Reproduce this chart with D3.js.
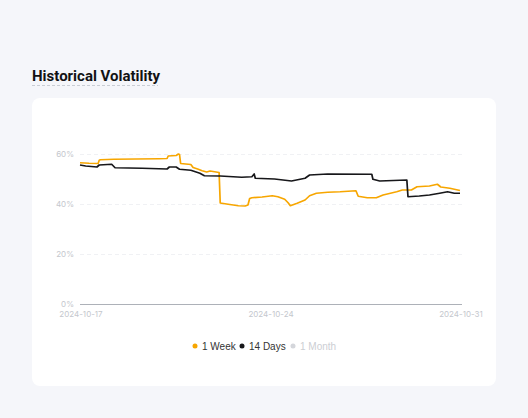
<!DOCTYPE html>
<html>
<head>
<meta charset="utf-8">
<script src="https://cdn.jsdelivr.net/npm/d3@7"></script>
<style>
  html, body { margin: 0; padding: 0; background: #f5f6fa; }
  body { width: 528px; height: 418px; overflow: hidden; font-family: Inter, "Noto Sans", sans-serif; }
</style>
</head>
<body>
<div id="chart"></div>
<script>
// hours since 2024-10-17 00:00 and volatility (%)
var weekHours = [0, 8, 16, 17, 18, 30, 50, 70, 77, 78, 85, 87, 88, 89, 98, 100, 104, 108, 112, 115, 123, 124, 131, 140, 146, 148.5, 150, 152, 161, 170, 175, 181, 184, 186, 192, 199, 203, 209, 219, 230, 244, 246, 254, 262, 268, 280, 285, 293, 298, 309, 316, 319, 327, 336];
var weekVol   = [56.5, 56.3, 56.2, 57.5, 57.7, 57.9, 58.0, 58.1, 58.2, 59.2, 59.4, 60.0, 59.8, 56.2, 55.8, 54.6, 54.0, 53.3, 52.8, 53.2, 52.6, 40.4, 39.9, 39.3, 39.2, 39.6, 42.2, 42.5, 42.8, 43.3, 42.9, 41.9, 40.5, 39.3, 40.3, 41.6, 43.3, 44.3, 44.7, 44.9, 45.3, 43.1, 42.5, 42.5, 43.6, 44.9, 45.6, 45.6, 46.9, 47.2, 47.9, 46.8, 46.3, 45.4];

var daysHours = [0, 5, 15, 17, 28, 31, 55, 77, 79, 85, 88, 98, 106, 110, 124, 143, 152, 154, 155, 172, 187, 199, 203, 219, 258, 259, 265, 289, 290, 300, 309, 318, 325, 331, 336];
var daysVol   = [55.6, 55.2, 54.8, 55.6, 55.9, 54.5, 54.3, 54.0, 54.8, 54.8, 53.9, 53.5, 52.3, 51.3, 51.2, 50.7, 50.9, 52.0, 50.3, 50.0, 49.2, 50.3, 51.6, 52.0, 51.9, 49.9, 49.2, 49.6, 42.9, 43.2, 43.6, 44.3, 44.9, 44.3, 44.3];

var yTicks = [0, 20, 40, 60];
var xTicks = ["2024-10-17", "2024-10-24", "2024-10-31"];
var legendNames = ["1 Week", "14 Days", "1 Month"];

var start = new Date(2024, 9, 17);
function toDate(h) { return new Date(start.getTime() + h * 3600e3); }

var week = weekHours.map((h, i) => ({t: toDate(h), v: weekVol[i]}));
var days = daysHours.map((h, i) => ({t: toDate(h), v: daysVol[i]}));

var width = 528, height = 418;
var svg = d3.select("#chart").append("svg")
  .attr("width", width)
  .attr("height", height);

// title
svg.append("text")
  .attr("x", 32)
  .attr("y", 81)
  .style("font-family", "Roboto, sans-serif")
  .style("font-size", "15px")
  .style("font-weight", 700)
  .style("fill", "#121214")
  .text("Historical Volatility");
svg.append("line")
  .attr("x1", 32).attr("x2", 158)
  .attr("y1", 85.5).attr("y2", 85.5)
  .attr("stroke", "#c9cdd4")
  .attr("stroke-dasharray", "3,2");

// card
svg.append("rect")
  .attr("x", 32).attr("y", 98)
  .attr("width", 464).attr("height", 288)
  .attr("rx", 8)
  .attr("fill", "#fff");

var margin = {left: 80, right: 68, top: 154, bottom: 114};
var x = d3.scaleTime()
  .domain([new Date(2024, 9, 17), new Date(2024, 9, 31)])
  .range([margin.left, width - margin.right]);
var y = d3.scaleLinear()
  .domain([0, 60])
  .range([height - margin.bottom, margin.top]);

// grid
svg.append("g").selectAll("line")
  .data(yTicks.filter(d => d > 0))
  .enter().append("line")
  .attr("x1", x.range()[0]).attr("x2", x.range()[1] + 2)
  .attr("y1", d => y(d) + 0.5).attr("y2", d => y(d) + 0.5)
  .attr("stroke", "#f0f1f4")
  .attr("stroke-dasharray", "4,3");

svg.append("line")
  .attr("x1", x.range()[0]).attr("x2", x.range()[1] + 2)
  .attr("y1", y(0) + 0.5).attr("y2", y(0) + 0.5)
  .attr("stroke", "#adb1b8");

// y labels
svg.append("g").selectAll("text")
  .data(yTicks)
  .enter().append("text")
  .attr("x", 74)
  .attr("y", d => y(d) + 3)
  .attr("text-anchor", "end")
  .style("font-size", "8px")
  .style("fill", "#c4c7cd")
  .text(d => d + "%");

// x labels
var parse = d3.timeParse("%Y-%m-%d");
svg.append("g").selectAll("text")
  .data(xTicks)
  .enter().append("text")
  .attr("x", d => x(parse(d)) + 1)
  .attr("y", 317)
  .attr("text-anchor", "middle")
  .style("font-size", "8px")
  .style("fill", "#c4c7cd")
  .text(d => d);

// lines
var line = d3.line()
  .x(d => x(d.t))
  .y(d => y(d.v));

svg.append("path")
  .datum(week)
  .attr("fill", "none")
  .attr("stroke", "#f7a600")
  .attr("stroke-width", 1.7)
  .attr("stroke-linejoin", "round")
  .attr("d", line);

svg.append("path")
  .datum(days)
  .attr("fill", "none")
  .attr("stroke", "#17171a")
  .attr("stroke-width", 1.7)
  .attr("stroke-linejoin", "round")
  .attr("d", line);

// legend
var legendColors = ["#f7a600", "#17171a", "#d4d6db"];
var textColors = ["#333", "#333", "#ccced3"];
var legendX = [195, 242, 293];
var lg = svg.append("g").selectAll("g")
  .data(legendNames)
  .enter().append("g")
  .attr("transform", (d, i) => `translate(${legendX[i]},346)`);
lg.append("circle")
  .attr("r", 2.5)
  .attr("fill", (d, i) => legendColors[i]);
lg.append("text")
  .attr("x", 7)
  .attr("y", 3.5)
  .style("font-size", "10px")
  .style("font-family", "Arial, 'Liberation Sans', sans-serif")
  .style("fill", (d, i) => textColors[i])
  .text(d => d);
</script>
</body>
</html>
